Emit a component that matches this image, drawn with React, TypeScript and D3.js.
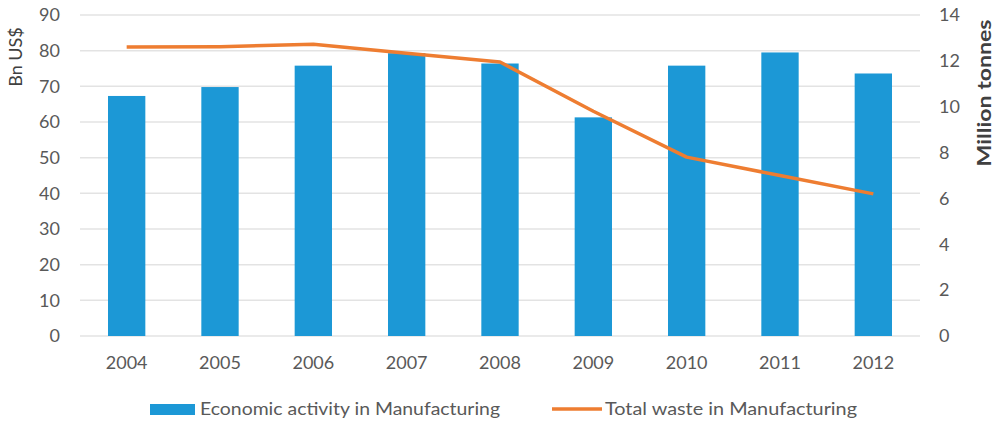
import React from "react";
import * as d3 from "d3";

const years = ["2004", "2005", "2006", "2007", "2008", "2009", "2010", "2011", "2012"];
const economic = [67.3, 69.8, 75.8, 79.3, 76.4, 61.3, 75.8, 79.5, 73.6];
const waste = [12.6, 12.62, 12.72, 12.33, 11.95, 9.8, 7.8, 7.0, 6.2];
const leftTicks = [0, 10, 20, 30, 40, 50, 60, 70, 80, 90];
const rightTicks = [0, 2, 4, 6, 8, 10, 12, 14];

const W = 996, H = 424;
const left = 80, right = 920, top = 15, bottom = 336;
const font = "Lato, 'Open Sans', sans-serif";
const textColor = "#595959";

export default function App() {
  const x = d3.scaleBand<string>().domain(years).range([left, right]).paddingInner(0.6).paddingOuter(0.3);
  const yL = d3.scaleLinear().domain([0, 90]).range([bottom, top]);
  const yR = d3.scaleLinear().domain([0, 14]).range([bottom, top]);
  const line = d3.line<number>()
    .x((_, i) => (x(years[i]) as number) + x.bandwidth() / 2)
    .y((d) => yR(d));
  return (
    <svg width={W} height={H} style={{ position: "absolute", left: 0, top: 0, background: "#fff" }}>
      {leftTicks.map((t) => (
        <line key={"g" + t} x1={left} x2={right} y1={yL(t)} y2={yL(t)} stroke="#e3e3e3" strokeWidth={1.5} />
      ))}
      {years.map((yr, i) => (
        <rect key={yr} x={x(yr)} y={yL(economic[i])} width={x.bandwidth()} height={bottom - yL(economic[i])} fill="#1c98d6" />
      ))}
      <path d={line(waste) || ""} fill="none" stroke="#ee7d31" strokeWidth={3.5} strokeLinejoin="round" />
      {leftTicks.map((t) => (
        <text key={"l" + t} x={60} y={yL(t)} dy="0.35em" textAnchor="end" fontFamily={font} fontSize={18} fill={textColor}>{t}</text>
      ))}
      {rightTicks.map((t) => (
        <text key={"r" + t} x={939} y={yR(t)} dy="0.35em" textAnchor="start" fontFamily={font} fontSize={18} fill={textColor}>{t}</text>
      ))}
      {years.map((yr) => (
        <text key={"x" + yr} x={(x(yr) as number) + x.bandwidth() / 2} y={363} dy="0.35em" textAnchor="middle" fontFamily={font} fontSize={18} fill={textColor}>{yr}</text>
      ))}
      <text transform="translate(16,57) rotate(-90)" textAnchor="middle" dy="0.35em" fontFamily={font} fontSize={18} fill="#404040">Bn US$</text>
      <text transform="translate(984,93) rotate(-90)" textAnchor="middle" dy="0.35em" fontFamily={font} fontSize={19} fontWeight={700} fill="#404040" textLength={147} lengthAdjust="spacingAndGlyphs">Million tonnes</text>
      <rect x={150} y={404} width={45} height={11} fill="#1c98d6" />
      <text x={200} y={409} dy="0.35em" fontFamily={font} fontSize={18} fill={textColor} textLength={300} lengthAdjust="spacingAndGlyphs">Economic activity in Manufacturing</text>
      <line x1={552} x2={602} y1={409} y2={409} stroke="#ee7d31" strokeWidth={3.5} />
      <text x={605} y={409} dy="0.35em" fontFamily={font} fontSize={18} fill={textColor} textLength={252} lengthAdjust="spacingAndGlyphs">Total waste in Manufacturing</text>
    </svg>
  );
}
